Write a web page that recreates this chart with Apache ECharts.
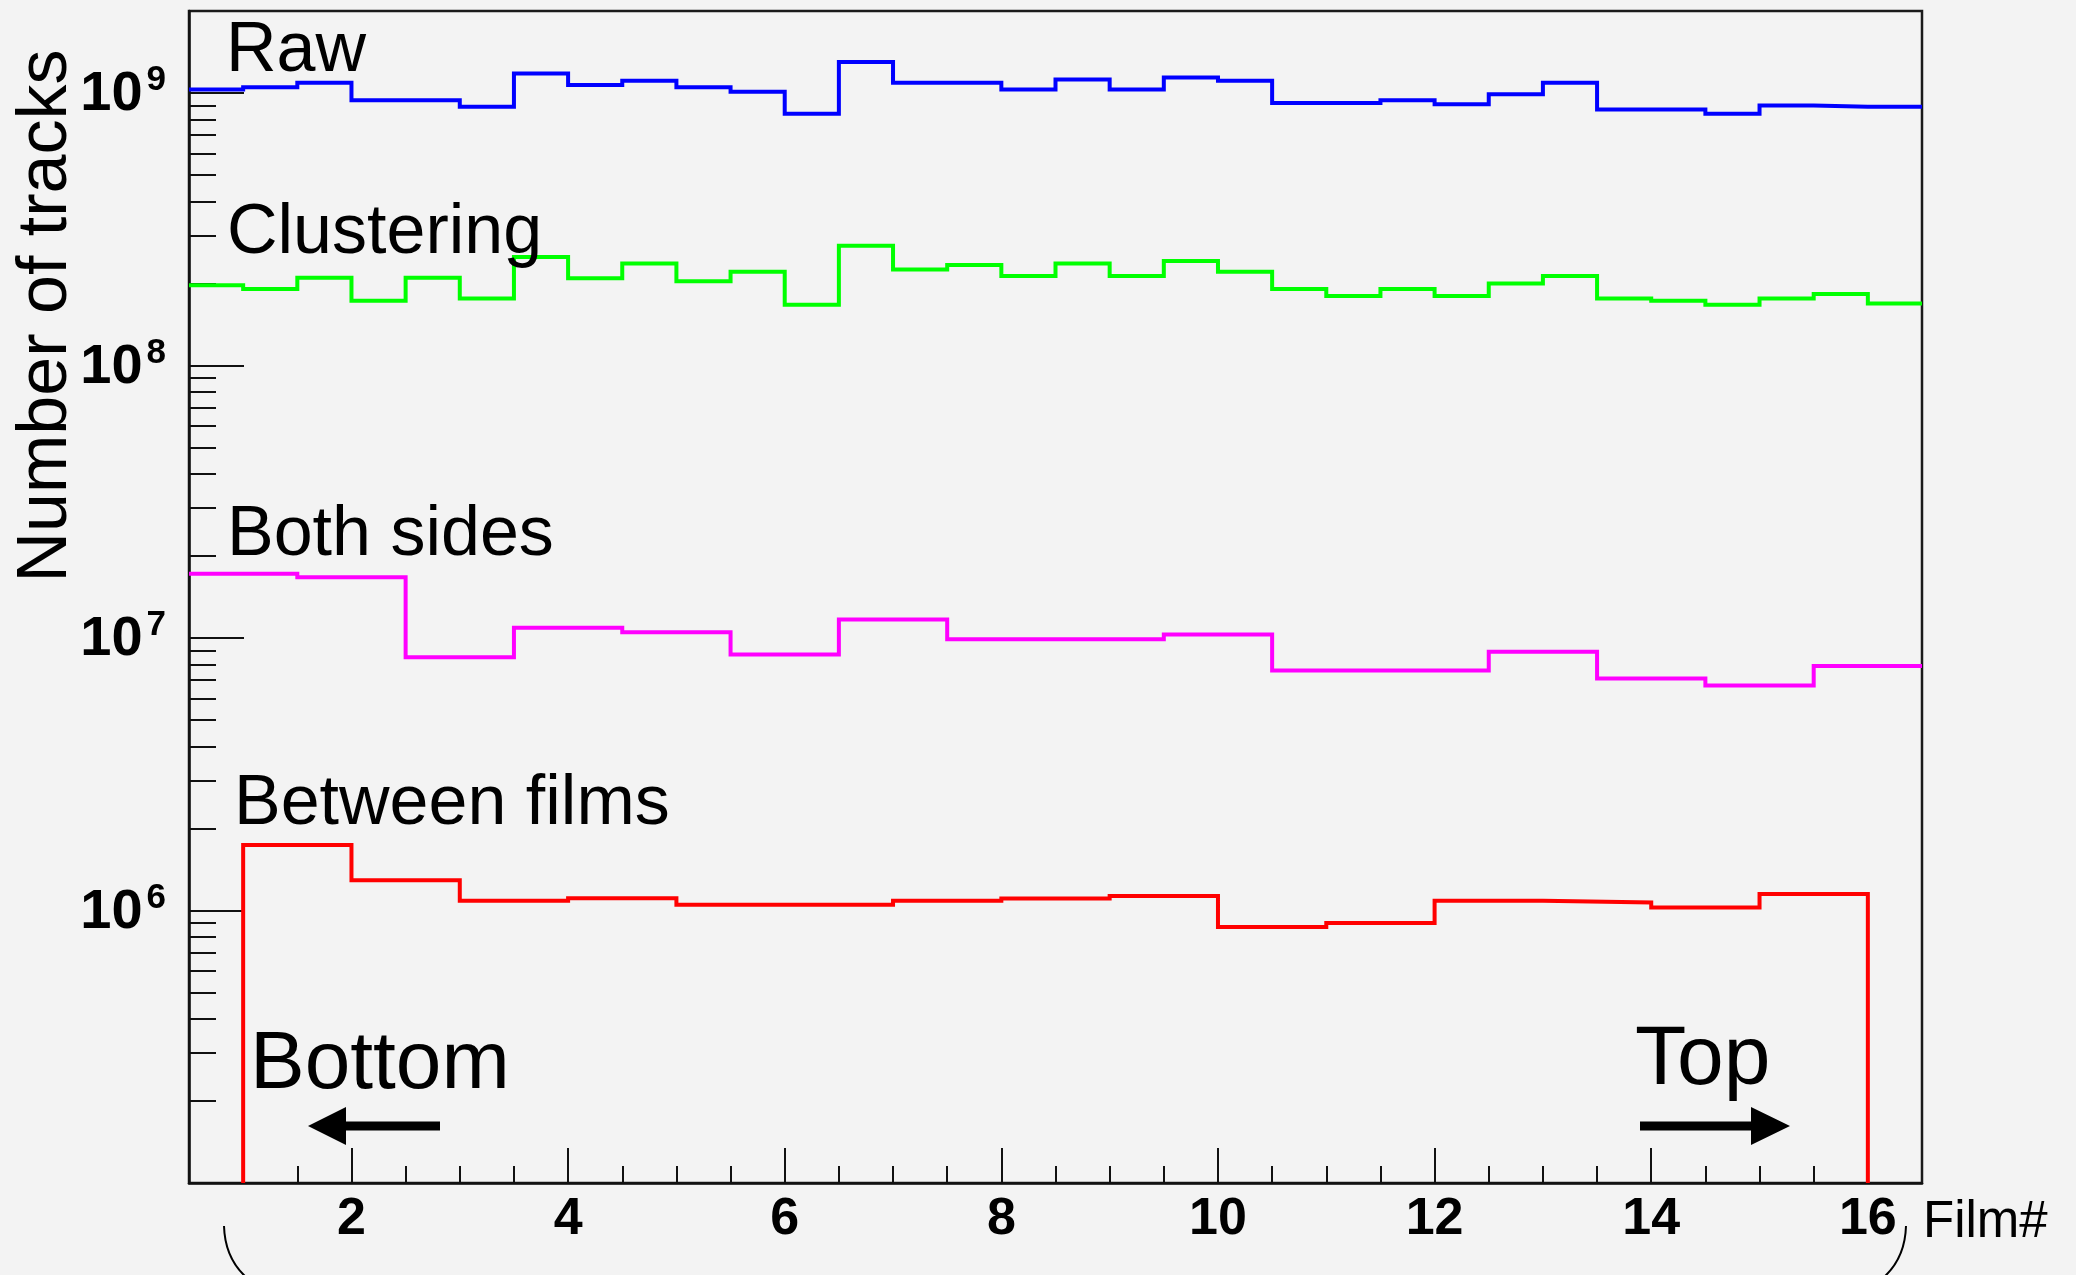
<!DOCTYPE html>
<html>
<head>
<meta charset="utf-8">
<script src="https://cdn.jsdelivr.net/npm/echarts@6/dist/echarts.min.js"></script>
<style>
html,body{margin:0;padding:0;background:#f3f3f3;}
#c{width:2076px;height:1275px;}
</style>
</head>
<body>
<div id="c"></div>
<script>
// ---------------- data ----------------
// Raw: 32 bins of width 0.5 (low edges), upper edge 16.5
const rawLowEdges = [0.5,1,1.5,2,2.5,3,3.5,4,4.5,5,5.5,6,6.5,7,7.5,8,8.5,9,9.5,10,10.5,11,11.5,12,12.5,13,13.5,14,14.5,15,15.5,16];
const rawValues = [1.03e9,1.05e9,1.09e9,0.94e9,0.94e9,0.89e9,1.18e9,1.07e9,1.11e9,1.05e9,1.01e9,0.84e9,1.30e9,1.09e9,1.09e9,1.03e9,1.12e9,1.03e9,1.14e9,1.11e9,0.92e9,0.92e9,0.94e9,0.91e9,0.99e9,1.09e9,0.87e9,0.87e9,0.84e9,0.90e9,0.89e9,0.89e9];
const rawUpperEdge = 16.5;

// Clustering: same binning as Raw
const clusteringLowEdges = rawLowEdges;
const clusteringValues = [1.97e8,1.91e8,2.10e8,1.73e8,2.10e8,1.76e8,2.50e8,2.09e8,2.37e8,2.04e8,2.21e8,1.67e8,2.75e8,2.25e8,2.34e8,2.13e8,2.37e8,2.13e8,2.42e8,2.21e8,1.91e8,1.80e8,1.91e8,1.80e8,2.00e8,2.13e8,1.76e8,1.73e8,1.67e8,1.76e8,1.83e8,1.69e8];
const clusteringUpperEdge = 16.5;

// Both sides: 16 bins of width 1 centred on films 1..16
const bothLowEdges = [0.5,1.5,2.5,3.5,4.5,5.5,6.5,7.5,8.5,9.5,10.5,11.5,12.5,13.5,14.5,15.5];
const bothValues = [1.72e7,1.67e7,8.5e6,1.09e7,1.05e7,8.7e6,1.17e7,9.9e6,9.9e6,1.03e7,7.6e6,7.6e6,8.9e6,7.1e6,6.7e6,7.9e6];
const bothUpperEdge = 16.5;

// Between films: 15 bins of width 1 from 1 to 16
const betweenLowEdges = [1,2,3,4,5,6,7,8,9,10,11,12,13,14,15];
const betweenValues = [1.74e6,1.29e6,1.085e6,1.11e6,1.05e6,1.05e6,1.085e6,1.106e6,1.13e6,0.87e6,0.90e6,1.085e6,1.07e6,1.026e6,1.15e6];
const betweenUpperEdge = 16;

// axes
const xMin = 0.5, xMax = 16.5;
const yMin = 1e5, yMax = 2e9;
const xMajorTicks = [2,4,6,8,10,12,14,16];
const xMinorTicks = [1,1.5,2.5,3,3.5,4.5,5,5.5,6.5,7,7.5,8.5,9,9.5,10.5,11,11.5,12.5,13,13.5,14.5,15,15.5];
const yMajorTicks = [1e5,1e6,1e7,1e8,1e9];
const yLabelTicks = [1e6,1e7,1e8,1e9];
const yMinorTicks = [];
[1e5,1e6,1e7,1e8].forEach(function(d){ [2,3,4,5,6,7,8,9].forEach(function(m){ yMinorTicks.push(m*d); }); });

// ---------------- helpers ----------------
function histPoints(lows, vals, upper) {
  const pts = lows.map(function(x, i){ return [x, vals[i]]; });
  pts.push([upper, vals[vals.length - 1]]);
  return pts;
}
function histPointsFloor(lows, vals, upper, floor) {
  return [[lows[0], floor]].concat(histPoints(lows, vals, upper), [[upper, floor]]);
}

const FONT = "'Liberation Sans', Arial, Helvetica, sans-serif";
const AX = '#111';

function lineSeries(name, color, data) {
  return {
    name: name, type: 'line', step: 'end', symbol: 'none', showSymbol: false,
    xAxisIndex: 0, yAxisIndex: 0, data: data, clip: true,
    lineStyle: { color: color, width: 4, join: 'miter', cap: 'butt' },
    emphasis: { disabled: true }, z: 3
  };
}

function annot(text, x, y, size) {
  return {
    type: 'text', x: x, y: y, z: 100, silent: true,
    style: { text: text, fontSize: size, fontFamily: FONT, fill: '#000',
      align: 'left', verticalAlign: 'middle', textAlign: 'left', textVerticalAlign: 'middle' }
  };
}

const chart = echarts.init(document.getElementById('c'), null, { renderer: 'canvas' });

const option = {
  backgroundColor: '#f3f3f3',
  animation: false,
  grid: { left: 189, right: 154, top: 11, bottom: 92, show: true,
    borderColor: '#1a1a1a', borderWidth: 2.5, backgroundColor: 'transparent' },
  xAxis: [
    { type: 'value', min: xMin, max: xMax, position: 'bottom',
      axisLine: { show: true, onZero: false, lineStyle: { color: AX, width: 2.5 } },
      axisTick: { show: true, inside: true, length: 35, customValues: xMajorTicks, lineStyle: { color: AX, width: 2 } },
      axisLabel: { show: true, customValues: xMajorTicks, margin: 11, color: '#000', fontSize: 52, fontWeight: 'bold', fontFamily: FONT },
      splitLine: { show: false },
      name: 'Film#', nameLocation: 'end', nameGap: 1,
      nameTextStyle: { fontSize: 51, fontFamily: FONT, color: '#000', verticalAlign: 'top', lineHeight: 51, padding: [14, 0, 0, 0] }
    },
    { type: 'value', min: xMin, max: xMax, position: 'bottom',
      axisLine: { show: false, onZero: false },
      axisTick: { show: true, inside: true, length: 17, customValues: xMinorTicks, lineStyle: { color: AX, width: 2 } },
      axisLabel: { show: false }, splitLine: { show: false }
    }
  ],
  yAxis: [
    { type: 'log', logBase: 10, min: yMin, max: yMax, position: 'left',
      axisLine: { show: true, onZero: false, lineStyle: { color: AX, width: 2.5 } },
      axisTick: { show: true, inside: true, length: 55, customValues: yMajorTicks, lineStyle: { color: AX, width: 2 } },
      axisLabel: { show: true, customValues: yLabelTicks, margin: 23,
        fontSize: 56, fontWeight: 'bold', fontFamily: FONT, color: '#000',
        formatter: function (v) { return '{b|10}{s|' + Math.round(Math.log10(v)) + '}'; },
        rich: {
          b: { fontSize: 56, fontWeight: 'bold', fontFamily: FONT, color: '#000', lineHeight: 60, verticalAlign: 'bottom' },
          s: { fontSize: 35, fontWeight: 'bold', fontFamily: FONT, color: '#000', lineHeight: 24, verticalAlign: 'top', padding: [0, 0, 0, 4] }
        }
      },
      splitLine: { show: false }
    },
    { type: 'log', logBase: 10, min: yMin, max: yMax, position: 'left',
      axisLine: { show: false, onZero: false },
      axisTick: { show: true, inside: true, length: 27, customValues: yMinorTicks, lineStyle: { color: AX, width: 2 } },
      axisLabel: { show: false }, splitLine: { show: false }
    }
  ],
  series: [
    lineSeries('Raw', '#0000ff', histPoints(rawLowEdges, rawValues, rawUpperEdge)),
    lineSeries('Clustering', '#00ff00', histPoints(clusteringLowEdges, clusteringValues, clusteringUpperEdge)),
    lineSeries('Both sides', '#ff00ff', histPoints(bothLowEdges, bothValues, bothUpperEdge)),
    lineSeries('Between films', '#ff0000', histPointsFloor(betweenLowEdges, betweenValues, betweenUpperEdge, yMin))
  ],
  graphic: [
    { type: 'text', x: 47, y: 316, rotation: Math.PI / 2, z: 100, silent: true,
      style: { text: 'Number of tracks', fontSize: 70, fontFamily: FONT, fill: '#000',
        align: 'center', verticalAlign: 'middle', textAlign: 'center', textVerticalAlign: 'middle' } },
    annot('Raw', 226, 52, 70),
    annot('Clustering', 227, 234, 70),
    annot('Both sides', 227, 536, 70),
    annot('Between films', 234, 805, 70),
    annot('Bottom', 250, 1065, 82),
    annot('Top', 1635, 1061, 84),
    { type: 'polygon', z: 100, silent: true,
      shape: { points: [[308,1126],[346,1107],[346,1121.5],[440,1121.5],[440,1130.5],[346,1130.5],[346,1145]] },
      style: { fill: '#000' } },
    { type: 'polygon', z: 100, silent: true,
      shape: { points: [[1790,1126],[1751,1107],[1751,1121.5],[1640,1121.5],[1640,1130.5],[1751,1130.5],[1751,1145]] },
      style: { fill: '#000' } },
    { type: 'bezierCurve', z: 100, silent: true,
      shape: { x1: 224, y1: 1226, cpx1: 225, cpy1: 1262, x2: 252, y2: 1282 },
      style: { stroke: '#000', lineWidth: 2, fill: null } },
    { type: 'bezierCurve', z: 100, silent: true,
      shape: { x1: 1906, y1: 1226, cpx1: 1905, cpy1: 1262, x2: 1878, y2: 1282 },
      style: { stroke: '#000', lineWidth: 2, fill: null } }
  ]
};
chart.setOption(option);
</script>
</body>
</html>
